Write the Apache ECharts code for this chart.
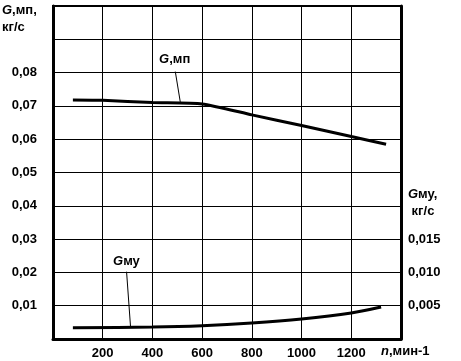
<!DOCTYPE html>
<html>
<head>
<meta charset="utf-8">
<script src="https://cdn.jsdelivr.net/npm/echarts@6/dist/echarts.min.js"></script>
<style>
  html, body { margin: 0; padding: 0; background: #fff; }
  #main { width: 461px; height: 361px; }
</style>
</head>
<body>
<div id="main"></div>
<script>
// speed, rpm
var nMp = [80, 200, 400, 600, 800, 1000, 1200, 1340];
// G,мп, kg/s (left axis)
var gMp = [0.0718, 0.0717, 0.0710, 0.0706, 0.0673, 0.0641, 0.0608, 0.0585];
var nMy = [80, 400, 600, 800, 1000, 1200, 1320];
// Gму, kg/s (right axis)
var gMy = [0.0017, 0.0018, 0.0020, 0.0024, 0.0030, 0.0039, 0.0048];

var fontFam = '"Liberation Sans", Arial, sans-serif';

function pairs(xs, ys) {
    var out = [];
    for (var i = 0; i < xs.length; i++) out.push([xs[i], ys[i]]);
    return out;
}

var dom = document.getElementById('main');
var chart = echarts.init(dom);
var textBase = { fontFamily: fontFam, fontWeight: 'bold', fontSize: 13, color: '#000' };
var rich = {
    i: { fontFamily: fontFam, fontWeight: 'bold', fontStyle: 'italic', fontSize: 13, color: '#000' },
    r: { fontFamily: fontFam, fontWeight: 'bold', fontSize: 13, color: '#000', lineHeight: 17 }
};

var option = {
    animation: false,
    backgroundColor: '#fff',
    grid: { left: 53, right: 60, top: 6, bottom: 22, show: true, borderColor: '#000', borderWidth: 2 },
    xAxis: {
        type: 'value', min: 0, max: 1400, interval: 200,
        axisLine: { show: true, lineStyle: { color: '#000', width: 3 } },
        axisTick: { show: false },
        axisLabel: Object.assign({ margin: 8, formatter: function (v) { return (v === 0 || v === 1400) ? '' : v; } }, textBase),
        splitLine: { show: true, lineStyle: { color: '#000', width: 1 } }
    },
    yAxis: [{
        type: 'value', min: 0, max: 0.1, interval: 0.01,
        axisLine: { show: true, lineStyle: { color: '#000', width: 3 } },
        axisTick: { show: false },
        axisLabel: Object.assign({ margin: 16, formatter: function (v) {
            return (v > 0.001 && v < 0.085) ? v.toFixed(2).replace('.', ',') : '';
        } }, textBase),
        splitLine: { show: true, lineStyle: { color: '#000', width: 1 } }
    }, {
        type: 'value', min: 0, max: 0.05, interval: 0.005,
        position: 'right',
        axisLine: { show: true, lineStyle: { color: '#000', width: 3 } },
        axisTick: { show: false },
        axisLabel: Object.assign({ margin: 7, formatter: function (v) {
            return (v > 0.001 && v < 0.017) ? v.toFixed(3).replace('.', ',') : '';
        } }, textBase),
        splitLine: { show: false }
    }],
    series: [{
        name: 'G,мп', type: 'line', yAxisIndex: 0, smooth: 0.2, showSymbol: false,
        lineStyle: { color: '#000', width: 3 },
        data: pairs(nMp, gMp),
        markLine: {
            silent: true, symbol: 'none',
            lineStyle: { color: '#000', width: 1, type: 'solid' },
            label: { show: true, position: 'start', distance: 4, formatter: '{i|G}{r|,мп}', rich: rich },
            data: [[{ coord: [492, 0.0803] }, { coord: [512, 0.0712] }]]
        }
    }, {
        name: 'Gму', type: 'line', yAxisIndex: 1, smooth: 0.3, showSymbol: false,
        lineStyle: { color: '#000', width: 3 },
        data: pairs(nMy, gMy),
        markLine: {
            silent: true, symbol: 'none',
            lineStyle: { color: '#000', width: 1, type: 'solid' },
            label: { show: true, position: 'start', distance: 2, formatter: '{i|G}{r|му}', rich: rich },
            data: [[{ coord: [296, 0.0101] }, { coord: [312, 0.0018] }]]
        }
    }],
    graphic: [{
        type: 'text', left: 2, top: 4,
        style: { text: '{i|G}{r|,мп,}\n{r|кг/с}', rich: rich, textAlign: 'left' }
    }, {
        type: 'text', left: 408, top: 188,
        style: { text: '{i|G}{r|му,}\n{r| кг/с}', rich: rich }
    }, {
        type: 'text', left: 381, top: 345,
        style: { text: '{i|n}{r|,мин-1}', rich: rich }
    }]
};
chart.setOption(option);
</script>
</body>
</html>
